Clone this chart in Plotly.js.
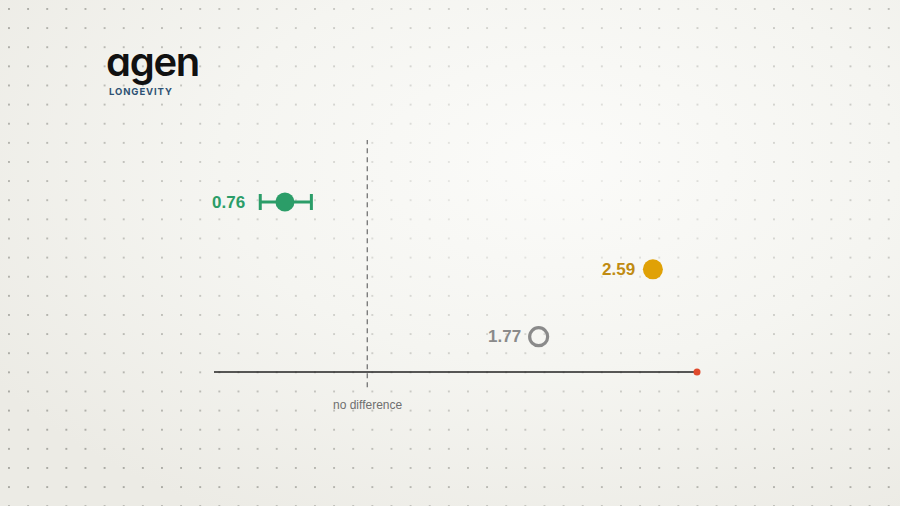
<!DOCTYPE html>
<html>
<head>
<meta charset="utf-8">
<script src="https://cdn.plot.ly/plotly-3.0.1.min.js"></script>
<style>
  html, body { margin: 0; padding: 0; }
  body {
    width: 900px; height: 506px; overflow: hidden; position: relative;
    background: radial-gradient(ellipse 75% 80% at 62% 32%, #fbfbf9 0%, #f5f5f1 50%, #ecebe5 100%);
  }
  #dots {
    position: absolute; left: 0; top: 0; width: 900px; height: 506px;
    background-image: radial-gradient(circle, #a9a9a3 0.9px, transparent 1.3px);
    background-size: 19.14px 19.13px;
    background-position: -0.6px -0.6px;
    -webkit-mask-image: radial-gradient(ellipse 70% 75% at 60% 38%, rgba(0,0,0,0.15) 0%, rgba(0,0,0,0.55) 55%, #000 100%);
  }
  #logo { position: absolute; left: 106px; top: 42px; }
  #logo .word {
    font-family: Inter, "Noto Sans", sans-serif; font-weight: 600; font-size: 40px;
    line-height: 40px; color: #111; letter-spacing: -1.3px;
    font-feature-settings: "cv11" 1, "ss02" 1;
  }
  #logo .sub {
    font-family: Inter, "Liberation Sans", sans-serif; font-weight: 700; font-size: 9.5px;
    letter-spacing: 0.9px; color: #2e5274; margin-top: 4px; margin-left: 3px;
  }
  #chart { position: absolute; left: 0; top: 0; width: 900px; height: 506px; }
</style>
</head>
<body>
<div id="dots"></div>
<div id="logo"><div class="word">agen</div><div class="sub">LONGEVITY</div></div>
<div id="chart"></div>
<script>
// 비율 추정치 (log 축)
const ROWS = ['green', 'gold', 'gray'];
const ROW_Y = [3, 2, 1];
const VALUES = [0.76, 2.59, 1.77];
const CI_LOW = [0.70, null, null];
const CI_HIGH = [0.83, null, null];
const LABELS = ['0.76', '2.59', '1.77'];
const AXIS_MIN = 0.6, AXIS_MAX = 3;
const AXIS_Y = 0.475;
const REF_X = 1;
const REF_Y = [0.25, 3.92];
const REF_LABEL = 'no difference';

const C_GREEN = '#2b9d68', C_GOLD = '#e0a106', C_GOLD_TXT = '#c08b12', C_GRAY = '#8a8a8a';

const traces = [
  // 기준선 (no difference)
  {
    x: [REF_X, REF_X], y: REF_Y, mode: 'lines', type: 'scatter',
    line: { color: '#7d7d7d', width: 1.4, dash: '5px,4px' }, hoverinfo: 'skip',
  },
  // x축 선
  {
    x: [AXIS_MIN, AXIS_MAX], y: [AXIS_Y, AXIS_Y], mode: 'lines', type: 'scatter',
    line: { color: '#222', width: 1.5 }, hoverinfo: 'skip',
  },
  {
    x: [AXIS_MAX], y: [AXIS_Y], mode: 'markers', type: 'scatter', cliponaxis: false,
    marker: { color: '#e04a2c', size: 7 }, hoverinfo: 'skip',
  },
  // green: CI 포함
  {
    x: [VALUES[0]], y: [ROW_Y[0]], mode: 'markers', type: 'scatter',
    marker: { color: C_GREEN, size: 19 },
    error_x: {
      type: 'data', symmetric: false,
      array: [CI_HIGH[0] - VALUES[0]], arrayminus: [VALUES[0] - CI_LOW[0]],
      color: C_GREEN, thickness: 3, width: 8,
    },
  },
  // gold
  {
    x: [VALUES[1]], y: [ROW_Y[1]], mode: 'markers', type: 'scatter',
    marker: { color: C_GOLD, size: 20 },
  },
  // gray hollow
  {
    x: [VALUES[2]], y: [ROW_Y[2]], mode: 'markers', type: 'scatter',
    marker: { color: 'rgba(0,0,0,0)', size: 18, line: { color: C_GRAY, width: 3.2 } },
  },
];

const labelFont = { family: '"Liberation Sans", Arial, sans-serif', size: 17, weight: 700 };
const anchorX = [CI_LOW[0], VALUES[1], VALUES[2]];
const labelColors = [C_GREEN, C_GOLD_TXT, C_GRAY];
const labelShift = [-13, -16, -16];

const annotations = LABELS.map((t, i) => ({
  x: Math.log10(anchorX[i]), y: ROW_Y[i], xref: 'x', yref: 'y',
  text: '<b>' + t + '</b>', showarrow: false, xanchor: 'right', yanchor: 'middle',
  xshift: labelShift[i], font: { ...labelFont, color: labelColors[i] },
}));
annotations.push({
  x: Math.log10(REF_X), y: AXIS_Y, xref: 'x', yref: 'y',
  text: REF_LABEL, showarrow: false, xanchor: 'center', yanchor: 'top', yshift: -24,
  font: { family: '"Liberation Sans", Arial, sans-serif', size: 12, color: '#6f6f6f' },
});

const layout = {
  width: 900, height: 506,
  paper_bgcolor: 'rgba(0,0,0,0)', plot_bgcolor: 'rgba(0,0,0,0)',
  margin: { l: 214, r: 203, t: 101, b: 102 },
  showlegend: false,
  xaxis: {
    type: 'log', range: [Math.log10(AXIS_MIN), Math.log10(AXIS_MAX)],
    showgrid: false, zeroline: false, showline: false, showticklabels: false, ticks: '',
  },
  yaxis: {
    range: [0, 4.5], showgrid: false, zeroline: false, showline: false,
    showticklabels: false, ticks: '',
  },
  annotations: annotations,
};

Plotly.newPlot('chart', traces, layout, { displayModeBar: false, staticPlot: true });
</script>
</body>
</html>
